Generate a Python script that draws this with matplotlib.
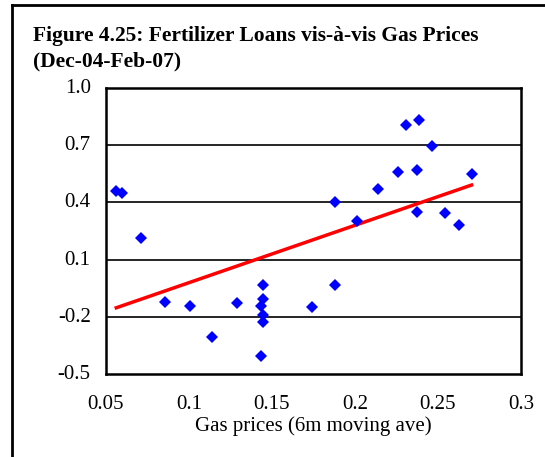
import matplotlib
matplotlib.use("Agg")
import matplotlib.pyplot as plt
from matplotlib.lines import Line2D
from matplotlib.transforms import ScaledTranslation
import numpy as np

# gas price (6m moving ave) vs fertilizer loans
gas = [0.0562, 0.0598, 0.0711, 0.0858, 0.1005, 0.114, 0.129, 0.1448, 0.1448,
       0.1434, 0.1448, 0.1448, 0.1434, 0.174, 0.1877, 0.1877, 0.2012, 0.2136,
       0.226, 0.2306, 0.2386, 0.2372, 0.2464, 0.2372, 0.2543, 0.2624, 0.2702]
loans = [0.460, 0.448, 0.213, -0.120, -0.141, -0.306, -0.127, -0.031, -0.108,
         -0.141, -0.188, -0.229, -0.404, -0.150, -0.031, 0.400, 0.304, 0.468,
         0.558, 0.804, 0.832, 0.568, 0.696, 0.351, 0.343, 0.283, 0.547]

x_ticks = [0.05, 0.1, 0.15, 0.2, 0.25, 0.3]
x_labels = ["0.05", "0.1", "0.15", "0.2", "0.25", "0.3"]
y_ticks = [-0.5, -0.2, 0.1, 0.4, 0.7, 1.0]
y_labels = ["-0.5", "-0.2", "0.1", "0.4", "0.7", "1.0"]

plt.rcParams["font.family"] = ["Liberation Serif", "DejaVu Serif"]

W, H = 545, 457
fig = plt.figure(figsize=(W / 100, H / 100), dpi=100)
ax = fig.add_axes([106 / W, 1 - 374 / H, (521 - 106) / W, (374 - 88) / H])

ax.set_xlim(0.05, 0.3)
ax.set_ylim(-0.5, 1.0)

for yv in y_ticks[1:-1]:
    ax.axhline(yv, color="black", lw=1.2, zorder=1)

ax.plot(gas, loans, "D", color="#0000ff", markersize=6.2, markeredgewidth=0, zorder=3)

# linear trend
k, b = np.polyfit(gas, loans, 1)
xs = np.array([min(gas), max(gas)])
ax.plot(xs, k * xs + b, color="#ff0000", lw=2.5, zorder=2)

ax.set_xticks(x_ticks)
ax.set_xticklabels(x_labels, fontsize=15)
ax.set_yticks(y_ticks)
ax.set_yticklabels(y_labels, fontsize=15)
ax.tick_params(axis="x", length=0, pad=15)
ax.tick_params(axis="y", length=0, pad=11)
ax.set_xlabel("Gas prices (6m moving ave)", fontsize=15, labelpad=2)
for s in ax.spines.values():
    s.set_linewidth(1.8)

# y labels sit a little above their gridlines in the original
up = ScaledTranslation(0, 2 / 100, fig.dpi_scale_trans)
for lbl in ax.get_yticklabels():
    lbl.set_transform(lbl.get_transform() + up)

fig.text(33 / W, 1 - 41 / H, "Figure 4.25: Fertilizer Loans vis-à-vis Gas Prices",
         fontsize=15.5, fontweight="bold", va="baseline", ha="left")
fig.text(33 / W, 1 - 66 / H, "(Dec-04-Feb-07)",
         fontsize=15.5, fontweight="bold", va="baseline", ha="left")

# outer frame (left and top edges)
fig.add_artist(Line2D([12 / W, 12 / W], [0, 1 - 5 / H], color="black", lw=2))
fig.add_artist(Line2D([12 / W, 1], [1 - 5 / H, 1 - 5 / H], color="black", lw=2))

fig.savefig("out.png", dpi=100)
